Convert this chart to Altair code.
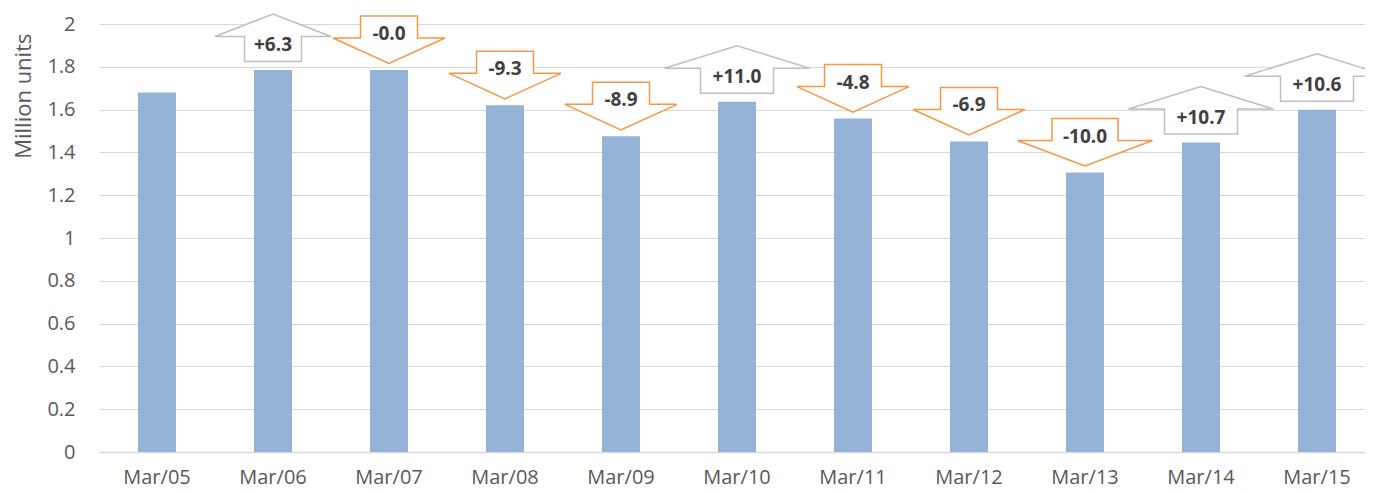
import altair as alt
import pandas as pd

months = ["Mar/05", "Mar/06", "Mar/07", "Mar/08", "Mar/09", "Mar/10",
          "Mar/11", "Mar/12", "Mar/13", "Mar/14", "Mar/15"]
units = [1.68, 1.785, 1.785, 1.62, 1.475, 1.637, 1.558, 1.451, 1.306, 1.446, 1.599]
changes = ["", "+6.3", "-0.0", "-9.3", "-8.9", "+11.0", "-4.8", "-6.9", "-10.0", "+10.7", "+10.6"]
y_ticks = [0, 0.2, 0.4, 0.6, 0.8, 1, 1.2, 1.4, 1.6, 1.8, 2]

df = pd.DataFrame({"month": months, "units": units, "change": changes})


def up_path(hh, hb):
    return (f"M {-hb} -0.17 L {hb} -0.17 L {hb} -0.67 L {hh} -0.67 "
            f"L 0 -1.12 L {-hh} -0.67 L {-hb} -0.67 Z")


def down_path(hh, hb):
    return (f"M {-hb} -1.08 L {hb} -1.08 L {hb} -0.64 L {hh} -0.64 "
            f"L 0 -0.13 L {-hh} -0.64 L {-hb} -0.64 Z")


shape_domain = ["upS", "upL", "downS", "downL"]
shape_range = [up_path(1.16, 0.57), up_path(1.45, 0.73),
               down_path(1.12, 0.57), down_path(1.35, 0.66)]

base = alt.Chart(df).encode(
    x=alt.X("month:N", sort=months,
            scale=alt.Scale(paddingInner=0, paddingOuter=0, range=[0, 1276]),
            axis=alt.Axis(title=None, labelAngle=0, ticks=False, tickSize=0,
                          labelPadding=15, domainColor="#d9d9d9", domainWidth=1.5,
                          labelFont="Open Sans", labelFontSize=20,
                          labelColor="#595959", grid=False)),
    y=alt.Y("units:Q", scale=alt.Scale(domain=[0, 2], nice=False),
            axis=alt.Axis(values=y_ticks, format="~g", title="Million units",
                          titleAnchor="end", titleAlign="right", titleY=9,
                          titleX=-76, titleBaseline="middle",
                          titleFont="Open Sans", titleFontSize=22,
                          titleFontWeight="normal", titleColor="#595959",
                          labelFont="Open Sans", labelFontSize=20,
                          labelColor="#595959", domain=False, ticks=False,
                          tickSize=0, labelPadding=24, gridColor="#d9d9d9")),
)

bars = base.mark_bar(size=38, color="#95b3d7")

arrows = base.transform_filter("datum.change != ''").transform_calculate(
    dir="substring(datum.change, 0, 1) == '+' ? 'up' : 'down'"
).transform_calculate(
    kind="datum.dir + (length(datum.change) > 4 ? 'L' : 'S')"
).mark_point(size=10000, filled=True, fill="white", strokeWidth=1.5,
             opacity=1).encode(
    shape=alt.Shape("kind:N", scale=alt.Scale(domain=shape_domain, range=shape_range),
                    legend=None),
    stroke=alt.Stroke("dir:N", scale=alt.Scale(domain=["up", "down"],
                                                range=["#bfbfbf", "#f79646"]),
                      legend=None),
)

text_style = dict(font="Open Sans", fontSize=19, fontWeight="bold",
                  color="#404040", baseline="middle", align="center")

text_up = base.transform_filter("substring(datum.change, 0, 1) == '+'").mark_text(
    dy=-25, **text_style).encode(text="change:N")
text_down = base.transform_filter("substring(datum.change, 0, 1) == '-'").mark_text(
    dy=-36, **text_style).encode(text="change:N")

chart = alt.layer(bars, arrows, text_up, text_down).properties(
    width=1266, height=428,
    autosize=alt.AutoSizeParams(type="none"),
    padding={"left": 91, "top": 16, "right": 0, "bottom": 38},
    background="white",
).configure_view(stroke=None)

chart.save("out.html", embed_options={"renderer": "svg", "actions": False})
